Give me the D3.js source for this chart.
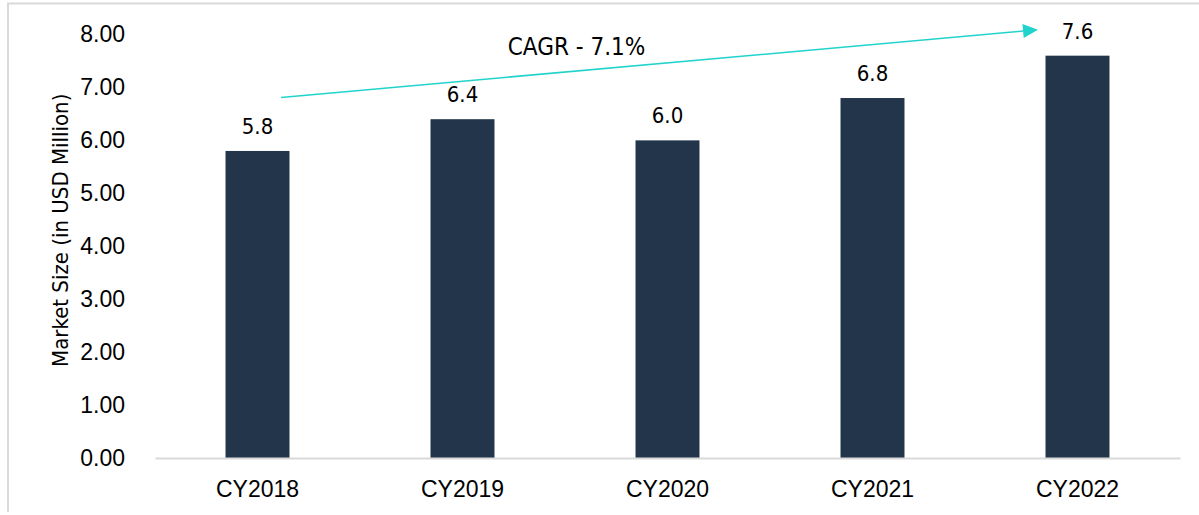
<!DOCTYPE html>
<html>
<head>
<meta charset="utf-8">
<script src="https://cdn.jsdelivr.net/npm/d3@7"></script>
<style>
  body { margin: 0; background: #fff; }
  svg { display: block; font-family: "DejaVu Sans Condensed", "DejaVu Sans", sans-serif; }
  .axis text { fill: #000; }
</style>
</head>
<body>
<svg id="chart"></svg>
<script>
// chart data
const years = ['CY2018', 'CY2019', 'CY2020', 'CY2021', 'CY2022'];
const marketSize = [5.8, 6.4, 6.0, 6.8, 7.6];
const yTicks = [0, 1, 2, 3, 4, 5, 6, 7, 8];
const yTitle = 'Market Size (in USD Million)';
const cagrLabel = 'CAGR - 7.1%';
// arrow goes from above the first bar to just before the last label (in data units)
const cagrFrom = {year: 'CY2018', value: 6.81};
const cagrTo = {year: 'CY2022', value: 8.09};

class BarChart {

  constructor(_config) {
    this.config = {
      parentElement: _config.parentElement,
      containerWidth: _config.containerWidth || 1199,
      containerHeight: _config.containerHeight || 515,
      margin: {top: 34.5, right: 19, bottom: 57, left: 155}
    }
    this.initVis();
  }

  initVis() {
    let vis = this;

    vis.width = vis.config.containerWidth - vis.config.margin.left - vis.config.margin.right;
    vis.height = vis.config.containerHeight - vis.config.margin.top - vis.config.margin.bottom;

    vis.svg = d3.select(vis.config.parentElement)
      .attr('width', vis.config.containerWidth)
      .attr('height', vis.config.containerHeight);

    // light frame of the chart area (only top and left edges are in view)
    vis.svg.append('path')
      .attr('d', `M8,512 V3.5 H${vis.config.containerWidth}`)
      .attr('fill', 'none')
      .attr('stroke', '#d9d9d9')
      .attr('stroke-width', 2);

    vis.chart = vis.svg.append('g')
      .attr('transform', `translate(${vis.config.margin.left}, ${vis.config.margin.top})`);

    vis.xScale = d3.scaleBand()
      .domain(years)
      .range([0, vis.width])
      .paddingInner(0.688)
      .paddingOuter(0.344);

    vis.yScale = d3.scaleLinear()
      .domain([0, 8])
      .range([vis.height, 0]);

    vis.xAxis = d3.axisBottom(vis.xScale)
      .tickSize(0)
      .tickPadding(23);

    vis.yAxis = d3.axisLeft(vis.yScale)
      .tickValues(yTicks)
      .tickSize(0)
      .tickPadding(30)
      .tickFormat(d3.format('.2f'));

    vis.yAxisGroup = vis.chart.append('g')
      .attr('class', 'axis y-axis')
      .call(vis.yAxis);
    vis.yAxisGroup.select('.domain').remove();
    vis.yAxisGroup.selectAll('text').attr('font-size', 23);

    vis.chart.append('text')
      .attr('transform', `translate(${60 - vis.config.margin.left}, ${vis.height / 2 - 16}) rotate(-90)`)
      .attr('text-anchor', 'middle')
      .attr('dy', '0.35em')
      .attr('font-size', 22)
      .attr('fill', '#000')
      .text(yTitle);

    vis.updateVis();
  }

  updateVis() {
    let vis = this;
    const data = years.map((y, i) => ({year: y, value: marketSize[i]}));

    vis.chart.selectAll('.bar')
      .data(data)
      .join('rect')
      .attr('class', 'bar')
      .attr('fill', '#22354a')
      .attr('x', d => vis.xScale(d.year))
      .attr('width', vis.xScale.bandwidth())
      .attr('y', d => vis.yScale(d.value))
      .attr('height', d => vis.height - vis.yScale(d.value));

    // value labels over each bar
    vis.chart.selectAll('.bar-label')
      .data(data)
      .join('text')
      .attr('class', 'bar-label')
      .attr('text-anchor', 'middle')
      .attr('font-size', 22)
      .attr('fill', '#000')
      .attr('x', d => vis.xScale(d.year) + vis.xScale.bandwidth() / 2)
      .attr('y', d => vis.yScale(d.value) - 17)
      .text(d => d.value.toFixed(1));

    // x axis drawn after bars so the baseline sits on top
    vis.xAxisGroup = vis.chart.append('g')
      .attr('class', 'axis x-axis')
      .attr('transform', `translate(0, ${vis.height})`)
      .call(vis.xAxis);
    vis.xAxisGroup.select('.domain').attr('stroke', '#d9d9d9').attr('stroke-width', 2);
    vis.xAxisGroup.selectAll('text').attr('font-size', 23);

    // CAGR arrow
    const bw = vis.xScale.bandwidth();
    const x1 = vis.xScale(cagrFrom.year) + bw / 2 + 23.5;
    const y1 = vis.yScale(cagrFrom.value);
    const x2 = vis.xScale(cagrTo.year) + bw / 2 - 39.5;
    const y2 = vis.yScale(cagrTo.value);
    const ang = Math.atan2(y2 - y1, x2 - x1);
    const headLen = 15, headW = 7;
    const bx = x2 - headLen * Math.cos(ang), by = y2 - headLen * Math.sin(ang);

    vis.chart.append('line')
      .attr('x1', x1).attr('y1', y1)
      .attr('x2', bx).attr('y2', by)
      .attr('stroke', '#22d3cc')
      .attr('stroke-width', 1.6);

    vis.chart.append('path')
      .attr('d', `M${x2},${y2} L${bx + headW * Math.sin(ang)},${by - headW * Math.cos(ang)} L${bx - headW * Math.sin(ang)},${by + headW * Math.cos(ang)} Z`)
      .attr('fill', '#22d3cc');

    vis.chart.append('text')
      .attr('x', (vis.xScale('CY2019') + vis.xScale('CY2020')) / 2 + bw / 2 + 11.5)
      .attr('y', vis.yScale(cagrTo.value) + 16.5)
      .attr('dy', '0.35em')
      .attr('text-anchor', 'middle')
      .attr('font-size', 24)
      .attr('fill', '#000')
      .text(cagrLabel);
  }
}

new BarChart({parentElement: '#chart'});
</script>
</body>
</html>
